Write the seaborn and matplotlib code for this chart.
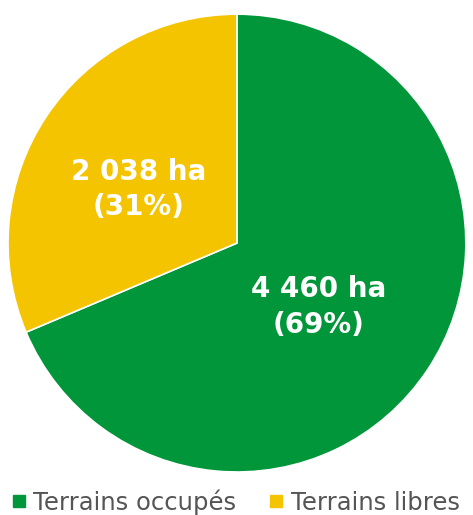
import numpy as np
import matplotlib
matplotlib.use("Agg")
import matplotlib.pyplot as plt
import seaborn as sns
from matplotlib.lines import Line2D

categories = ["Terrains occupés", "Terrains libres"]
surfaces_ha = [4460, 2038]
colors = ["#009639", "#F5C400"]

sns.set_theme(style="white")
plt.rcParams["font.family"] = ["DejaVu Sans"]

fig = plt.figure(figsize=(4.73, 5.15), dpi=100)
ax = fig.add_axes([0.0169, 0.0835, 0.968, 0.889])

wedges, _ = ax.pie(surfaces_ha, colors=colors, startangle=90, counterclock=False,
                   wedgeprops=dict(edgecolor="white", linewidth=1.2))
ax.set_xlim(-1, 1)
ax.set_ylim(-1, 1)
ax.set_aspect("equal")

total = sum(surfaces_ha)
offsets = [-4.5, 5.0]
dists = [0.455, 0.49]
for w, v, off, d in zip(wedges, surfaces_ha, offsets, dists):
    ang = np.deg2rad((w.theta1 + w.theta2) / 2 + off)
    pct = round(100 * v / total)
    lab = f"{v:,}".replace(",", " ") + f" ha\n({pct}%)"
    ax.text(d * np.cos(ang), d * np.sin(ang), lab, ha="center", va="center",
            color="white", fontsize=20, fontweight="bold", linespacing=1.35)

handles = [Line2D([0], [0], marker="s", linestyle="none", markersize=8,
                  markerfacecolor=c, markeredgecolor=c) for c in colors]
fig.legend(handles, categories, loc="lower left", bbox_to_anchor=(-0.03, -0.042),
           ncol=2, frameon=False, fontsize=17.5, handletextpad=0.15, columnspacing=1.2,
           handlelength=0.9, labelcolor="#555555")

fig.savefig("out.png", dpi=100)
